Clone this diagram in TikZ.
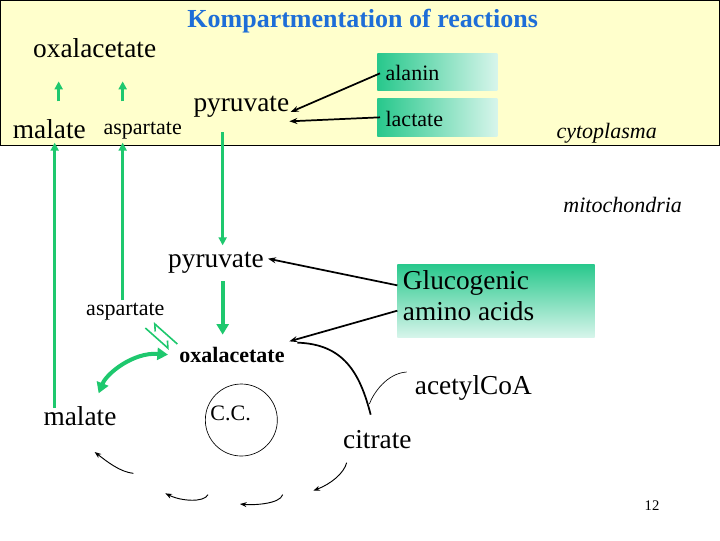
\documentclass[tikz,border=0pt]{standalone}
\usepackage{fontspec}
\setmainfont{Liberation Serif}
\usetikzlibrary{arrows.meta}
\begin{document}
\begin{tikzpicture}[x=1pt,y=-1pt,
 lbl/.style={inner sep=0pt,font=\fontsize{20.5}{23}\selectfont},
 sml/.style={inner sep=0pt,font=\fontsize{16.5}{18}\selectfont},
 grn/.style={draw=grnc,line width=2.2pt,-{Triangle[length=6pt,width=6pt]}},
 grnthick/.style={draw=grnc,line width=3pt,-{Triangle[length=8pt,width=9pt]}},
 blk/.style={draw=black,line width=1.3pt,-{Stealth[length=6pt]}},
 thin/.style={draw=black,line width=0.7pt,-{Stealth[length=5pt]}}]
\useasboundingbox (0,0) rectangle (540,405);
\definecolor{cyt}{RGB}{255,255,204}
\definecolor{gA}{RGB}{40,200,140}
\definecolor{gB}{RGB}{215,245,235}
\definecolor{ttl}{RGB}{30,110,215}
\definecolor{grnc}{RGB}{30,200,110}
\fill[white] (0,0) rectangle (540,405);
\filldraw[fill=cyt,draw=black,line width=0.8pt] (0,0) rectangle (540,109);
\node[inner sep=0pt,text=ttl,font=\fontsize{19.5}{22}\selectfont\bfseries] (title) at (272,16) {Kompartmentation of reactions};
\node[lbl] (oxc) at (71,36) {oxalacetate};
\node[lbl] (malc) at (37,97) {malate};
\node[sml] (aspc) at (107,98) {aspartate};
\node[lbl] (pyc) at (181,80) {pyruvate};
\shade[left color=gA,right color=gB] (283,40) rectangle (373,68);
\shade[left color=gA,right color=gB] (283,74) rectangle (373,102);
\node[sml,anchor=west] (ala) at (289,55) {alanin};
\node[sml,anchor=west] (lac) at (289,89) {lactate};
\coordinate (alaE) at (285,55);
\coordinate (lacE) at (285,88);
\node[sml,font=\fontsize{16.5}{18}\selectfont\itshape] (cyto) at (455,100) {cytoplasma};
\node[sml,font=\fontsize{16.5}{18}\selectfont\itshape] (mito) at (467,154) {mitochondria};
\draw[blk] (alaE) -- (218,84);
\draw[blk] (lacE) -- (217,91);
\draw[grn] (41,306) -- (41,107);
\draw[grn] (92,225) -- (92,107);
\draw[grn] (44,76) -- (44,61);
\draw[grn] (92,76) -- (92,61);
\draw[grn] (167,99) -- (167,184);
% mitochondria
\node[lbl] (pym) at (162,197) {pyruvate};
\shade[top color=gA,bottom color=gB] (298,198) rectangle (446,253);
\node[lbl,anchor=north west,align=left] (glu) at (302,203) {Glucogenic\\amino acids};
\node[sml] (aspm) at (94,234) {aspartate};
\node[sml,font=\fontsize{16.5}{18}\selectfont\bfseries] (oxm) at (174,266) {oxalacetate};
\node[lbl] (malm) at (60,312) {malate};
\node[draw,circle,minimum size=54pt,inner sep=0pt,line width=0.5pt] (cc) at (181,315) {};
\node[sml] (cct) at (173,310) {C.C.};
\node[lbl] (acc) at (355,291) {acetylCoA};
\node[lbl] (cit) at (283,330) {citrate};
\node[inner sep=0pt,font=\fontsize{11}{12}\selectfont] (pg) at (489,379) {12};
\draw[blk] (298,214) -- (201,194);
\draw[blk] (298,233) -- (217,256);
\draw[grnthick] (167,211) -- (167,251);
\draw[grnc,line width=1.2pt,-{Straight Barb[left,length=4pt]}] (109,246) -- (127,262);
\draw[grnc,line width=1.2pt,-{Straight Barb[left,length=4pt]}] (133,258) -- (115,242);
\draw[grnc,line width=3pt,{Triangle[length=8pt,width=9pt]}-{Triangle[length=8pt,width=9pt]}] (126,266) .. controls (100,264) and (80,280) .. (74,295);
\draw[line width=1.3pt] (223,257) .. controls (258,258) and (270,280) .. (278,311);
\draw[line width=0.5pt] (305,279) .. controls (290,280) and (280,295) .. (277,303);
\draw[thin] (260,347) .. controls (258,355) and (248,363) .. (235,368);
\draw[thin] (212,371) .. controls (210,378) and (190,379) .. (180,378);
\draw[thin] (156,371) .. controls (153,377) and (136,376) .. (124,370);
\draw[thin] (100,355) .. controls (90,354) and (80,346) .. (71,339);
\end{tikzpicture}
\end{document}
